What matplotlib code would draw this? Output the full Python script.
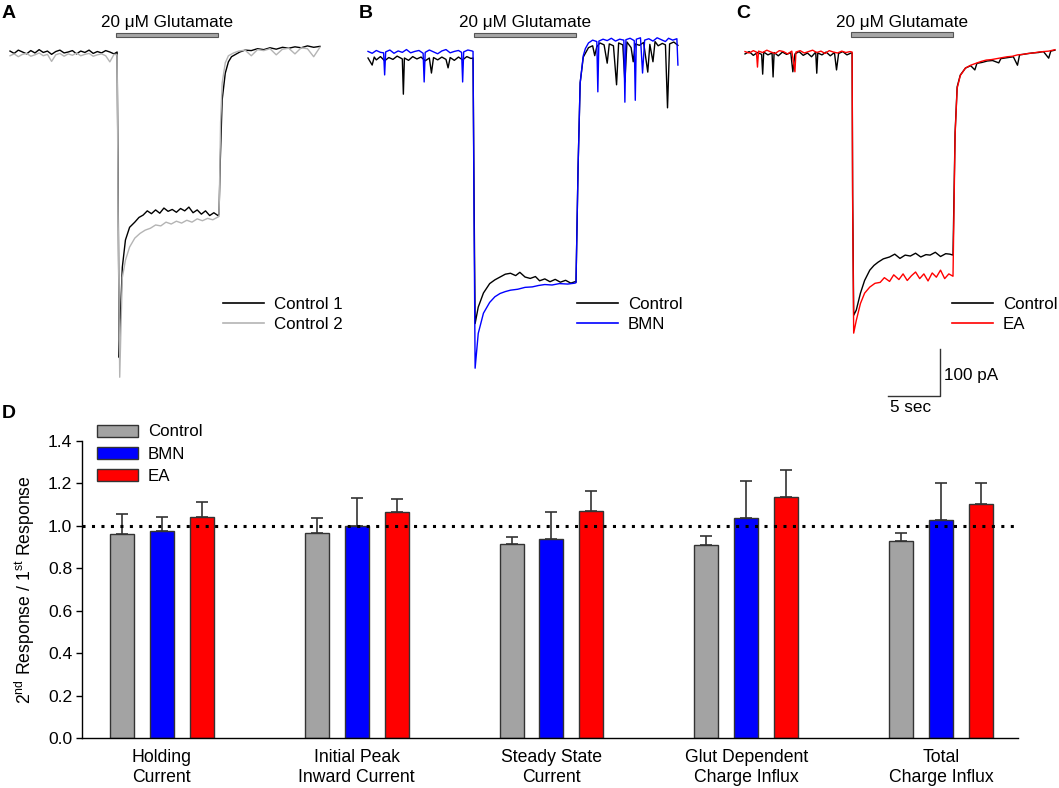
import matplotlib
matplotlib.use('Agg')
import matplotlib.pyplot as plt
from matplotlib.patches import Rectangle
from matplotlib.lines import Line2D

plt.rcParams['font.family'] = ['Liberation Sans', 'DejaVu Sans']
plt.rcParams['mathtext.fontset'] = 'custom'
plt.rcParams['mathtext.rm'] = 'Liberation Sans'

# ---- data: whole-cell current traces (time in s, current in pA rel. to baseline)
GLUT_ON, GLUT_OFF = 10.2, 20.0

# A: Control 1 / Control 2
a1_t = [0.0, 0.4, 0.8, 1.2, 1.6, 2.0, 2.4, 2.8, 3.2, 3.6, 4.0, 4.4, 4.8, 5.2, 5.6, 6.0, 6.4, 6.8, 7.2, 7.6,
        8.0, 8.4, 8.8, 9.2, 9.6, 10.0, 10.3,
        10.4, 10.5, 10.6, 10.8, 11.1, 11.5, 12.0, 12.4, 12.8, 13.2, 13.6, 14.0, 14.4, 14.8, 15.2, 15.6, 16.0,
        16.4, 16.8, 17.2, 17.6, 18.0, 18.4, 18.8, 19.2, 19.6, 20.0, 20.1,
        20.2, 20.4, 20.7, 21.0, 21.3, 22.1, 22.6, 23.2, 23.8, 24.4, 25.0, 25.6, 26.2, 26.8, 27.4, 28.0, 28.6,
        29.2, 29.8]
a1_i = [2, -3, 4, 0, -4, 3, -2, 5, -1, 2, -5, 1, 4, -2, 0, 3, -4, 2, -1, 4,
        -3, 1, -2, 3, 0, -4, 0,
        -300, -650, -570, -458, -400, -373, -362, -352, -347, -338, -344, -336, -343, -332, -339, -335, -341,
        -333, -338, -330, -342, -336, -345, -338, -348, -342, -348, -345,
        -245, -102, -45, -21, -10, 0, 4, 3, 7, 5, 9, 6, 10, 8, 11, 9, 13,
        10, 12]
a2_t = [0.0, 0.4, 0.8, 1.2, 1.6, 2.0, 2.4, 2.8, 3.2, 3.6, 4.0, 4.4, 4.8, 5.2, 5.6, 6.0, 6.4, 6.8, 7.2, 7.6,
        8.0, 8.4, 8.8, 9.2, 9.6, 10.0, 10.3,
        10.4, 10.55, 10.7, 10.8, 11.1, 11.5, 12.0, 12.5, 13.0, 13.5, 14.0, 14.5, 15.0, 15.5, 16.0, 16.5, 17.0,
        17.5, 18.0, 18.5, 19.0, 19.5, 20.0, 20.1, 20.25, 20.4, 20.7, 21.0, 21.5, 22.0, 22.6, 23.2, 23.8, 24.4,
        25.0, 25.6, 26.2, 26.8, 27.4, 28.0, 28.6, 29.2, 29.8]
a2_i = [-8, -4, -10, -5, -3, -9, -6, -2, -8, -5, -20, -6, -3, -9, -4, -7, -2, -8, -5, -3,
        -9, -6, -4, -8, -21, -5, -6,
        -350, -692, -560, -480, -443, -415, -396, -386, -379, -375, -368, -370, -362, -366, -360, -364, -358,
        -362, -355, -359, -354, -357, -351, -350, -150, -66, -23, -8, -2, 2, 4, -8, 5, 3,
        7, -6, 6, 8, -4, 9, 7, -10, 10]

# B: Control / BMN
b1_t = [0.0, 0.4, 0.6, 0.8, 1.2, 1.6, 2.0, 2.4, 2.8, 3.3, 3.4, 3.5, 3.9, 4.3, 4.7, 5.1, 5.5, 5.9, 6.1, 6.3,
        6.7, 7.1, 7.5, 7.7, 7.9, 8.3, 8.7, 9.1, 9.5, 9.9, 10.1,
        10.2, 10.3, 10.6, 11.1, 11.7, 12.2, 12.7, 13.2, 13.7, 14.2, 14.6, 15.1, 15.6, 16.1, 16.5, 17.0, 17.5,
        18.0, 18.5, 19.0, 19.5, 19.9, 20.0,
        20.2, 20.4, 20.7, 21.2, 21.6, 21.8, 22.0, 22.3, 22.7, 23.0, 23.2, 23.6, 23.9, 24.1, 24.5, 24.7, 24.9,
        25.3, 25.5, 25.7, 26.1, 26.5, 26.9, 27.1, 27.4, 27.6, 27.9, 28.3, 28.6, 28.8, 29.0, 29.4, 29.8]
b1_i = [0, -15, 2, -4, 3, -6, 1, -3, 4, -2, -77, 0, -5, 3, -2, 2, -6, 0, -32, 1,
        -4, 2, -3, -21, 1, -5, 2, -4, 3, -1, 0,
        -300, -565, -530, -500, -480, -472, -466, -460, -458, -463, -456, -466, -469, -465, -474, -470, -476,
        -471, -477, -473, -479, -476, -477,
        -232, -53, 2, 22, 26, 5, 24, 32, 28, -11, 30, 26, -57, 32, 28, -51, 34,
        22, -8, 30, 27, 33, -30, 29, -8, 35, 26, 31, 28, -106, 30, 34, 27]
b2_t = [0.0, 0.4, 0.8, 1.2, 1.5, 1.6, 1.7, 2.1, 2.5, 2.9, 3.3, 3.7, 4.1, 4.5, 4.9, 5.3, 5.4, 5.5, 5.9, 6.3,
        6.7, 7.1, 7.5, 7.9, 8.3, 8.7, 9.0, 9.1, 9.2, 9.6, 10.0, 10.1,
        10.2, 10.3, 10.6, 11.1, 11.7, 12.2, 12.7, 13.2, 13.7, 14.4, 15.1, 15.8, 16.4, 17.0, 17.7, 18.4, 19.2,
        19.9, 20.0,
        20.2, 20.4, 20.7, 20.9, 21.2, 21.6, 22.0, 22.1, 22.2, 22.6, 23.0, 23.4, 23.8, 24.2, 24.6, 24.7, 24.8,
        25.2, 25.6, 25.7, 25.8, 26.2, 26.4, 26.6, 27.0, 27.4, 27.8, 28.2, 28.6, 28.9, 29.3, 29.7, 29.8]
b2_i = [14, 10, 16, 12, 11, -36, 13, 17, 10, 15, 12, 18, 11, 14, 16, 10, -51, 12, 17, 13,
        9, 15, 18, 11, 14, 16, 12, -51, 13, 17, 15, 14,
        -350, -660, -586, -543, -520, -508, -501, -497, -494, -492, -488, -487, -484, -482, -483, -480, -481,
        -479, -478,
        -232, -53, 5, 20, 32, 38, 35, -72, 36, 40, 37, 42, 36, 40, 38, -94, 39,
        42, 37, -90, 40, 43, -32, 38, 41, 36, 43, 39, 35, 42, 38, 41, -15]

# C: Control / EA
c1_t = [0.0, 0.4, 0.8, 1.2, 1.6, 1.7, 1.8, 2.2, 2.6, 2.7, 2.8, 3.2, 3.6, 4.0, 4.4, 4.6, 4.8, 5.2, 5.6, 6.0,
        6.4, 6.8, 6.9, 7.0, 7.4, 7.8, 8.2, 8.6, 8.8, 9.0, 9.4, 9.8, 10.2, 10.3,
        10.35, 10.45, 10.7, 11.1, 11.5, 12.0, 12.4, 12.8, 13.3, 13.9, 14.4, 14.9, 15.4, 15.9, 16.4, 16.9,
        17.4, 17.8, 18.3, 18.8, 19.3, 19.7, 20.0,
        20.2, 20.4, 20.7, 21.2, 21.7, 22.1, 22.3, 22.8, 23.3, 23.8, 24.4, 24.6, 25.2, 25.8, 26.2, 26.4, 27.0,
        27.6, 28.2, 28.7, 29.2, 29.4, 29.8]
c1_i = [-2, 3, -5, 1, -3, -45, 2, -4, 0, -51, 1, -6, 2, -3, 1, -40, -2, 3, -5, 0,
        -8, 2, -43, 0, -4, 2, -6, 1, -36, -1, 3, -4, 0, 0,
        -300, -558, -547, -511, -484, -462, -452, -445, -438, -434, -428, -437, -430, -432, -426, -434,
        -429, -430, -424, -433, -427, -428, -430,
        -170, -72, -47, -32, -27, -36, -22, -20, -17, -16, -21, -12, -10, -8, -26, -4, -2,
        0, 1, 3, -11, 4, 6]
c2_t = [0.0, 0.4, 0.8, 1.1, 1.2, 1.3, 1.7, 2.1, 2.5, 2.9, 3.3, 3.7, 4.1, 4.5, 4.8, 4.9, 5.3, 5.7, 6.1, 6.5,
        6.9, 7.3, 7.7, 8.1, 8.5, 8.9, 9.3, 9.7, 10.1, 10.3,
        10.35, 10.45, 10.7, 11.1, 11.5, 12.0, 12.5, 13.0, 13.4, 13.9, 14.3, 14.8, 15.2, 15.6, 16.0, 16.4,
        16.8, 17.2, 17.6, 18.0, 18.4, 18.8, 19.2, 19.6, 20.0,
        20.2, 20.4, 20.7, 21.2, 21.7, 22.2, 22.7, 23.2, 23.7, 24.2, 24.7, 25.2, 25.7, 26.2, 26.7, 27.2,
        27.7, 28.2, 28.7, 29.2, 29.8]
c2_i = [3, 0, 5, 2, -30, 4, 1, 6, 2, -1, 5, 3, -2, 4, -40, 2, 5, 0, 3, 6,
        1, 4, -1, 5, 2, 0, 4, 1, 3, 2,
        -320, -596, -569, -533, -511, -498, -490, -488, -478, -486, -472, -482, -470, -484, -474, -466,
        -480, -470, -485, -468, -477, -462, -480, -470, -475,
        -175, -75, -48, -32, -26, -22, -18, -15, -14, -12, -10, -8, -7, -4, -3, -1,
        0, 2, 3, 4, 7]

# ---- data: D, 2nd / 1st response ratio (mean, upper SEM end)
categories = ['Holding\nCurrent', 'Initial Peak\nInward Current', 'Steady State\nCurrent',
              'Glut Dependent\nCharge Influx', 'Total\nCharge Influx']
groups = ['Control', 'BMN', 'EA']
control_mean = [0.963, 0.965, 0.915, 0.909, 0.929]
control_top = [1.058, 1.035, 0.948, 0.950, 0.967]
bmn_mean = [0.978, 1.000, 0.936, 1.036, 1.028]
bmn_top = [1.041, 1.130, 1.063, 1.212, 1.201]
ea_mean = [1.041, 1.063, 1.072, 1.137, 1.102]
ea_top = [1.113, 1.125, 1.165, 1.262, 1.202]

W, H = 1059, 788
PX_PER_S = 10.4
PX_PER_PA = 0.47

fig = plt.figure(figsize=(W / 100, H / 100), dpi=100)


def trace_axes(t0_px, base_px):
    left, right = t0_px - 15, t0_px + 318
    top, bottom = base_px - 55, base_px + 346
    ax = fig.add_axes([left / W, 1 - bottom / H, (right - left) / W, (bottom - top) / H])
    ax.set_xlim((left - t0_px) / PX_PER_S, (right - t0_px) / PX_PER_S)
    ax.set_ylim(-(bottom - base_px) / PX_PER_PA, (base_px - top) / PX_PER_PA)
    ax.axis('off')
    return ax


def glut_bar(ax, bar_y, text_y):
    ax.add_patch(Rectangle((GLUT_ON, bar_y), GLUT_OFF - GLUT_ON, 10, fc='#a6a6a6', ec='#555555', lw=0.8))
    ax.text((GLUT_ON + GLUT_OFF) / 2, text_y, '20 \u03bcM Glutamate', ha='center', va='baseline',
            fontsize=12.3)


def trace_legend(ax, x_px, y_px, colors, labels):
    handles = [Line2D([], [], color=c, lw=1.2) for c in colors]
    ax.legend(handles, labels, loc='upper left', bbox_to_anchor=(x_px / W, 1 - y_px / H),
              bbox_transform=fig.transFigure, frameon=False, fontsize=12.2, handlelength=2.4,
              handletextpad=0.6, labelspacing=0.32, borderpad=0, borderaxespad=0)


axA = trace_axes(10, 52)
axA.plot(a1_t, a1_i, color='black', lw=1.0)
axA.plot(a2_t, a2_i, color='#b4b4b4', lw=1.0)
glut_bar(axA, 31, 53)
trace_legend(axA, 223, 297, ['black', '#b4b4b4'], ['Control 1', 'Control 2'])

axB = trace_axes(368, 58)
axB.plot(b1_t, b1_i, color='black', lw=1.0)
axB.plot(b2_t, b2_i, color='#0000ff', lw=1.0)
glut_bar(axB, 44, 67)
trace_legend(axB, 577, 297, ['black', '#0000ff'], ['Control', 'BMN'])

axC = trace_axes(745, 53)
axC.plot(c1_t, c1_i, color='black', lw=1.0)
axC.plot(c2_t, c2_i, color='#ff0000', lw=1.0)
glut_bar(axC, 34, 56)
trace_legend(axC, 952, 297, ['black', '#ff0000'], ['Control', 'EA'])

# scale bar: 5 sec / 100 pA
axC.plot([13.75, 18.75, 18.75], [-730, -730, -630], color='#333333', lw=1, clip_on=False)
axC.text(19.1, -687, '100 pA', ha='left', va='center', fontsize=12.3)
axC.text(15.9, -755, '5 sec', ha='center', va='center', fontsize=12.3)

# panel letters
for x_px, y_px, s in [(2, 13, 'A'), (359, 13, 'B'), (736, 13, 'C'), (2, 413, 'D')]:
    fig.text(x_px / W, 1 - y_px / H, s, fontsize=14, fontweight='bold', ha='left', va='center')

# ---- bar chart D
axD = fig.add_axes([82 / W, 1 - 738 / H, (1018 - 82) / W, (738 - 441) / H])
x = list(range(len(categories)))
offset, width = 0.205, 0.123
colors = ['#a3a3a3', '#0000ff', '#ff0000']
for k, (mean, top) in enumerate([(control_mean, control_top), (bmn_mean, bmn_top), (ea_mean, ea_top)]):
    pos = [xi + (k - 1) * offset for xi in x]
    err = [t - m for t, m in zip(top, mean)]
    axD.bar(pos, mean, width, color=colors[k], edgecolor='#333333', lw=1, label=groups[k], zorder=2)
    axD.errorbar(pos, mean, yerr=[[0] * len(mean), err], fmt='none', ecolor='#333333', elinewidth=1.2,
                 capsize=4.5, capthick=1.2, zorder=1)
axD.axhline(1.0, color='black', lw=2.2, linestyle=(0, (1, 2.1)), zorder=3)
axD.set_xlim(-0.41, 4.395)
axD.set_ylim(0, 1.4)
axD.set_yticks([0.0, 0.2, 0.4, 0.6, 0.8, 1.0, 1.2, 1.4])
axD.set_yticklabels(['0.0', '0.2', '0.4', '0.6', '0.8', '1.0', '1.2', '1.4'])
axD.set_xticks(x)
axD.set_xticklabels(categories, fontsize=12.7, linespacing=1.2)
axD.tick_params(axis='x', length=0, pad=8)
axD.tick_params(axis='y', labelsize=12.6, length=4, width=1, pad=3)
for side in ['top', 'right']:
    axD.spines[side].set_visible(False)
for side in ['left', 'bottom']:
    axD.spines[side].set_linewidth(1)
axD.set_ylabel('2$^{\\rm nd}$ Response / 1$^{\\rm st}$ Response', fontsize=12.7, labelpad=8)
axD.legend(loc='upper left', bbox_to_anchor=(97 / W, 1 - 424.5 / H), bbox_transform=fig.transFigure,
           frameon=False, fontsize=12.2, handlelength=2.4, handleheight=0.7, handletextpad=0.6,
           labelspacing=0.43, borderpad=0, borderaxespad=0)

fig.savefig('out.png', dpi=100)
